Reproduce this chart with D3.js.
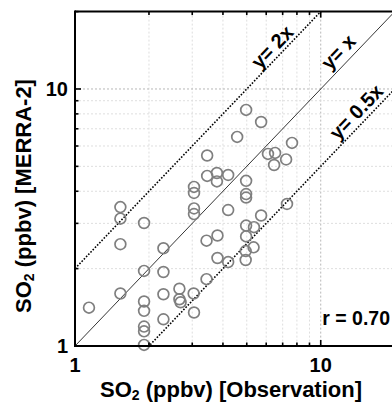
<!DOCTYPE html>
<html><head><meta charset="utf-8">
<script src="https://cdn.jsdelivr.net/npm/d3@7"></script>
<style>body{margin:0;background:#fff}svg{display:block}text{font-family:Arial,"Liberation Sans",sans-serif;font-weight:bold}</style>
</head><body>
<script>
const obsValues = [4.97,5.72,4.57,7.64,3.45,6.10,6.52,7.23,6.46,3.45,3.78,4.20,3.78,4.97,3.05,3.05,4.97,4.97,1.53,1.53,1.91,3.05,3.05,4.20,5.72,7.29,4.97,5.35,4.97,3.80,3.43,5.33,4.95,3.80,4.20,4.95,3.43,1.53,2.29,1.91,2.29,1.53,1.14,1.91,1.91,2.29,2.66,2.66,2.69,3.04,3.05,2.29,1.91,1.91,1.91];
const merraValues = [8.29,7.44,6.51,6.17,5.51,5.59,5.64,5.32,5.06,4.59,4.71,4.63,4.37,4.39,4.16,3.94,3.90,3.78,3.47,3.13,3.01,3.43,3.26,3.38,3.22,3.57,2.94,2.90,2.67,2.69,2.57,2.42,2.34,2.20,2.12,2.16,1.82,2.49,2.40,1.96,1.94,1.60,1.41,1.49,1.37,1.59,1.67,1.52,1.48,1.60,1.35,1.27,1.19,1.14,1.01];
const majorTicks = [1, 10];
const minorTicks = [2,3,4,5,6,7,8,9,20];
const gridValues = [2,3,4,5,6,7,8,9,10];
const refLines = [
  {label: "y= 2x", k: 2, dash: true, lx: 6.34, ly: 14.57},
  {label: "y= x", k: 1, dash: false, lx: 11.78, ly: 13.93},
  {label: "y= 0.5x", k: 0.5, dash: true, lx: 13.93, ly: 8.14}
];
const rText = "r = 0.70";
const xTitle = "SO", yTitle = "SO";

const W = 392, H = 405;
const svg = d3.select("body").append("svg").attr("width", W).attr("height", H);
const x = d3.scaleLog().domain([1, 20]).range([75, 394.7]);
const y = d3.scaleLog().domain([1, 20]).range([346, 11.6]);
const ang = -Math.atan((y(1) - y(10)) / (x(10) - x(1))) * 180 / Math.PI;

// grid
const g = svg.append("g");
g.selectAll(".gx").data(gridValues).join("line")
  .attr("x1", d => x(d)).attr("x2", d => x(d)).attr("y1", y(20)).attr("y2", y(1))
  .attr("stroke", d => d === 10 ? "#b8b8b8" : "#dedede").attr("stroke-width", 1).attr("stroke-dasharray", "2,2");
g.selectAll(".gy").data(gridValues).join("line")
  .attr("y1", d => y(d)).attr("y2", d => y(d)).attr("x1", x(1)).attr("x2", W)
  .attr("stroke", d => d === 10 ? "#b8b8b8" : "#dedede").attr("stroke-width", 1).attr("stroke-dasharray", "2,2");

// reference lines
svg.append("clipPath").attr("id", "c").append("rect")
  .attr("x", x(1)).attr("y", y(20)).attr("width", x(20) - x(1)).attr("height", y(1) - y(20));
const lg = svg.append("g").attr("clip-path", "url(#c)");
refLines.forEach(r => {
  lg.append("line")
    .attr("x1", x(1)).attr("y1", y(r.k * 1))
    .attr("x2", x(20)).attr("y2", y(r.k * 20))
    .attr("stroke", "#000")
    .attr("stroke-width", r.dash ? 1.6 : 0.8)
    .attr("stroke-dasharray", r.dash ? "1.6,1.6" : null);
  svg.append("text")
    .attr("transform", `translate(${x(r.lx)},${y(r.ly)}) rotate(${ang})`)
    .attr("text-anchor", "middle").attr("dominant-baseline", "central")
    .attr("font-size", 20).text(r.label);
});

// points
const pts = obsValues.map((v, i) => ({o: v, m: merraValues[i]}));
svg.append("g").selectAll("circle").data(pts).join("circle")
  .attr("cx", d => x(d.o)).attr("cy", d => y(d.m)).attr("r", 5.4)
  .attr("fill", "none").attr("stroke", "#7f7f7f").attr("stroke-width", 1.7);

// axes
const ax = svg.append("g").attr("stroke", "#000");
ax.append("line").attr("x1", x(1)).attr("x2", W).attr("y1", y(1)).attr("y2", y(1)).attr("stroke-width", 2);
ax.append("line").attr("x1", x(1)).attr("x2", W).attr("y1", y(20)).attr("y2", y(20)).attr("stroke-width", 2);
ax.append("line").attr("x1", x(1)).attr("x2", x(1)).attr("y1", y(1) + 1).attr("y2", y(20) - 1).attr("stroke-width", 2);
const allTicks = majorTicks.map(v => ({v, len: 6})).concat(minorTicks.map(v => ({v, len: 3.5})));
ax.selectAll(".tb").data(allTicks).join("line")
  .attr("x1", d => x(d.v)).attr("x2", d => x(d.v)).attr("y1", y(1)).attr("y2", d => y(1) - d.len).attr("stroke-width", 1.6);
ax.selectAll(".tt").data(allTicks).join("line")
  .attr("x1", d => x(d.v)).attr("x2", d => x(d.v)).attr("y1", y(20)).attr("y2", d => y(20) + d.len).attr("stroke-width", 1.6);
ax.selectAll(".tl").data(allTicks).join("line")
  .attr("y1", d => y(d.v)).attr("y2", d => y(d.v)).attr("x1", x(1)).attr("x2", d => x(1) + d.len).attr("stroke-width", 1.6);

// tick labels
svg.selectAll(".xl").data(majorTicks).join("text")
  .attr("x", d => x(d)).attr("y", 372).attr("text-anchor", "middle").attr("font-size", 20).text(d => d);
svg.selectAll(".yl").data(majorTicks).join("text")
  .attr("x", 68).attr("y", d => y(d) + 7).attr("text-anchor", "end").attr("font-size", 20).text(d => d);

// titles
const xt = svg.append("text").attr("x", 231).attr("y", 397).attr("text-anchor", "middle").attr("font-size", 22);
xt.append("tspan").text(xTitle);
xt.append("tspan").attr("font-size", 14).attr("dy", 3).text("2");
xt.append("tspan").attr("dy", -3).text(" (ppbv) [Observation]");
const yt = svg.append("text").attr("transform", "translate(31,196) rotate(-90)").attr("text-anchor", "middle").attr("font-size", 22);
yt.append("tspan").text(yTitle);
yt.append("tspan").attr("font-size", 14).attr("dy", 3).text("2");
yt.append("tspan").attr("dy", -3).text(" (ppbv) [MERRA-2]");

svg.append("text").attr("x", 390).attr("y", 325).attr("text-anchor", "end").attr("font-size", 19.5).text(rText);
</script>
</body></html>
